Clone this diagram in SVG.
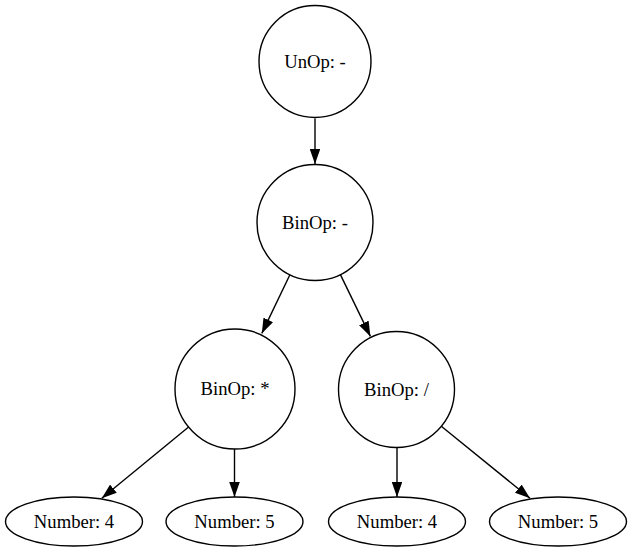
<svg xmlns="http://www.w3.org/2000/svg" width="632" height="551" viewBox="0 0 632 551">
  <style>
    .node { fill: #ffffff; stroke: #000000; stroke-width: 1.4; }
    .label { font-family: "Liberation Serif", "Times New Roman", serif; font-size: 18.67px; text-anchor: middle; fill: #000000; }
    .edge { fill: none; stroke: #000000; stroke-width: 1.4; marker-end: url(#arrow); }
  </style>
  <defs>
    <marker id="arrow" viewBox="0 0 15 10.6" refX="15" refY="5.3" markerWidth="15" markerHeight="10.6" markerUnits="userSpaceOnUse" orient="auto">
      <path d="M0,0 L15,5.3 L0,10.6 Z" fill="#000000"/>
    </marker>
  </defs>
  <rect width="632" height="551" fill="#ffffff"/>

  <g id="edges">
    <path class="edge" d="M315,118.5 L315,164"/>
    <path class="edge" d="M289.9,274.8 L261.8,333.4"/>
    <path class="edge" d="M340.4,274.6 L370.4,336.4"/>
    <path class="edge" d="M188.6,427 L101.8,498.2"/>
    <path class="edge" d="M234.5,449 L234.5,497"/>
    <path class="edge" d="M397,448 L397,497"/>
    <path class="edge" d="M441.6,426.5 L530,498.2"/>
  </g>

  <g id="unop_minus">
    <circle class="node" cx="315" cy="61.5" r="56"/>
    <text class="label" x="315" y="67.5">UnOp: -</text>
  </g>
  <g id="binop_minus">
    <circle class="node" cx="315" cy="222.5" r="58"/>
    <text class="label" x="315" y="228.5">BinOp: -</text>
  </g>
  <g id="binop_mul">
    <circle class="node" cx="235" cy="389" r="60"/>
    <text class="label" x="235" y="395">BinOp: *</text>
  </g>
  <g id="binop_div">
    <circle class="node" cx="396.5" cy="389.5" r="58"/>
    <text class="label" x="396.5" y="395.5">BinOp: /</text>
  </g>
  <g id="number_4_left">
    <ellipse class="node" cx="74" cy="521.5" rx="68.5" ry="24.5"/>
    <text class="label" x="74" y="527.5">Number: 4</text>
  </g>
  <g id="number_5_left">
    <ellipse class="node" cx="234.5" cy="521.5" rx="68.5" ry="24.5"/>
    <text class="label" x="234.5" y="527.5">Number: 5</text>
  </g>
  <g id="number_4_right">
    <ellipse class="node" cx="397" cy="521.5" rx="68.5" ry="24.5"/>
    <text class="label" x="397" y="527.5">Number: 4</text>
  </g>
  <g id="number_5_right">
    <ellipse class="node" cx="558" cy="521.5" rx="68.5" ry="24.5"/>
    <text class="label" x="558" y="527.5">Number: 5</text>
  </g>
</svg>
